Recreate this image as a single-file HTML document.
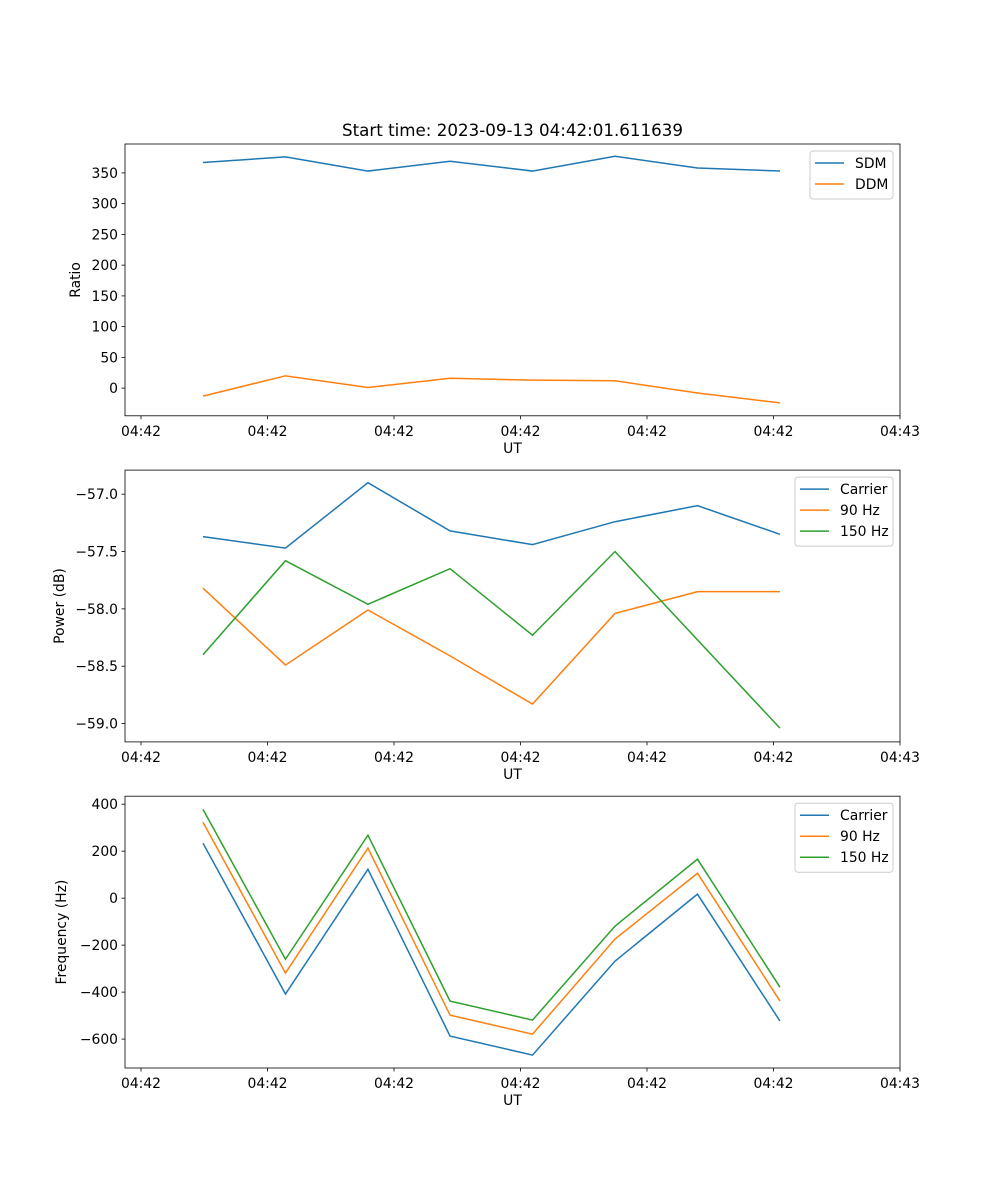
<!DOCTYPE html>
<html><head><meta charset="utf-8"><style>
body{margin:0;background:#fff}
svg{display:block;font-family:"DejaVu Sans","Liberation Sans",sans-serif}
</style></head><body>
<svg id="fig" width="1000" height="1200" xmlns="http://www.w3.org/2000/svg"></svg>
<script>
const times = [0.49,1.142,1.794,2.443,3.095,3.747,4.399,5.051];
const xTicks = [0,1,2,3,4,5,6];
const xTickLabels = ["04:42","04:42","04:42","04:42","04:42","04:42","04:43"];
const sdm = [367,376,353,369,353,377,358,353];
const ddm = [-13,20,1,16,13,12,-8,-24];
const pCarrier = [-57.37,-57.47,-56.90,-57.32,-57.44,-57.24,-57.10,-57.35];
const p90 = [-57.82,-58.49,-58.01,-58.41,-58.83,-58.04,-57.85,-57.85];
const p150 = [-58.40,-57.58,-57.96,-57.65,-58.23,-57.50,-58.27,-59.04];
const fCarrier = [234,-408,123,-587,-668,-268,17,-523];
const f90 = [323,-319,213,-498,-579,-174,106,-438];
const f150 = [378,-260,268,-438,-519,-119,166,-379];
const ticks1 = [0,50,100,150,200,250,300,350];
const ticks2 = [-59.0,-58.5,-58.0,-57.5,-57.0];
const ticks3 = [-600,-400,-200,0,200,400];

const NS="http://www.w3.org/2000/svg";
const svg=document.getElementById('fig');
function el(tag,attrs,parent){const e=document.createElementNS(NS,tag);for(const k in attrs)e.setAttribute(k,attrs[k]);(parent||svg).appendChild(e);return e;}
const C={b:'#1f77b4',o:'#ff7f0e',g:'#2ca02c'};
const X0=125,X1=900;
const xs=t=>141+(t-0)*(900-141)/6;

function panel(name,top,bot,ymin,ymax,ticks,fmt,ylabel,ylabX,series,legend){
  const g=el('g',{});
  
  
  const ys=v=>bot-(v-ymin)*(bot-top)/(ymax-ymin);
  // ticks y
  ticks.forEach(v=>{
    const y=ys(v);
    el('line',{x1:X0-3.5,x2:X0,y1:y,y2:y,stroke:'#000','stroke-width':0.8},g);
    const t=el('text',{x:X0-7,y:y+5,'text-anchor':'end','font-size':13.9},g);
    t.textContent=fmt(v).replace('-','\u2212');
    
    
  });
  xTicks.forEach((v,i)=>{
    const x=xs(v);
    el('line',{x1:x,x2:x,y1:bot,y2:bot+3.5,stroke:'#000','stroke-width':0.8},g);
    const t=el('text',{x:x,y:bot+20,'text-anchor':'middle','font-size':13.9},g);
    t.textContent=xTickLabels[i];
    
    
  });
  series.forEach(s=>{
    const p=el('polyline',{points:s.d.map((v,i)=>xs(times[i])+','+ys(v)).join(' '),fill:'none',stroke:s.c,'stroke-width':1.5},g);
    
    
  });
  el('rect',{x:X0,y:top,width:X1-X0,height:bot-top,fill:'none',stroke:'#000','stroke-width':0.8},g);
  const xl=el('text',{x:(X0+X1)/2,y:bot+37,'text-anchor':'middle','font-size':13.9},g);
  xl.textContent='UT';
  
  
  const yl=el('text',{x:ylabX,y:(top+bot)/2,'text-anchor':'middle','font-size':13.9,transform:`rotate(-90 ${ylabX} ${(top+bot)/2})`},g);
  yl.textContent=ylabel;
  
  
  // legend
  const lg=el('g',{},g);
  
  
  const lx=legend.x, ly=top+7, h=series.length*21+6;
  el('rect',{x:lx,y:ly,width:893-lx,height:h,rx:3,fill:'#fff','fill-opacity':0.8,stroke:'#ccc','stroke-width':1},lg);
  series.forEach((s,i)=>{
    const y=ly+12+i*21;
    el('line',{x1:lx+5,x2:lx+34,y1:y,y2:y,stroke:s.c,'stroke-width':1.5},lg);
    const t=el('text',{x:lx+45,y:y+5,'font-size':13.9},lg);
    t.textContent=s.n;
    
    
  });
  return g;
}
const tt=el('text',{x:512.5,y:136,'text-anchor':'middle','font-size':16.7});
tt.textContent='Start time: 2023-09-13 04:42:01.611639';



panel('ratio-panel',144,415.8,-45,397,ticks1,v=>String(v),'Ratio',80,
 [{n:'SDM',d:sdm,c:C.b},{n:'DDM',d:ddm,c:C.o}],{x:810});
panel('power-panel',470.1,741.9,-59.16,-56.79,ticks2,v=>v.toFixed(1),'Power (dB)',64,
 [{n:'Carrier',d:pCarrier,c:C.b},{n:'90 Hz',d:p90,c:C.o},{n:'150 Hz',d:p150,c:C.g}],{x:795});
panel('frequency-panel',796.2,1068,-723,434,ticks3,v=>String(v),'Frequency (Hz)',66,
 [{n:'Carrier',d:fCarrier,c:C.b},{n:'90 Hz',d:f90,c:C.o},{n:'150 Hz',d:f150,c:C.g}],{x:795});
</script>
</body></html>
